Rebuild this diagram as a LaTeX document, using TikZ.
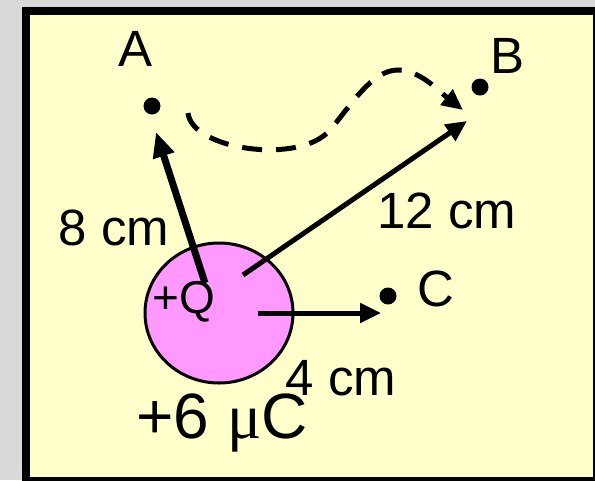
\documentclass[tikz,border=0pt]{standalone}
\usepackage{fontspec}
\setmainfont{Liberation Sans}
\newfontfamily\greekfont{Liberation Serif}
\usetikzlibrary{arrows.meta,shapes.geometric}
\definecolor{bggray}{HTML}{D9D9D9}
\definecolor{paper}{HTML}{FFFFCC}
\definecolor{charge}{HTML}{FF99FF}
\begin{document}
\begin{tikzpicture}[x=1pt,y=-1pt,
  lbl/.style={anchor=base,inner sep=0pt,font=\fontsize{51}{53}\selectfont},
  pt/.style={circle,fill=black,inner sep=0pt,minimum size=17pt},
  vec/.style={line width=5pt,-{Triangle[length=21pt,width=19pt]}},
  path/.style={line width=5pt,dash pattern=on 20pt off 14pt,-{Triangle[length=21pt,width=19pt]}}]
\useasboundingbox (0,0) rectangle (595,480);
\clip (0,0) rectangle (595,480);
\fill[bggray] (0,0) rectangle (595,480);
\draw[line width=8pt,fill=paper] (26,11) rectangle (597,481);
% points
\node[pt] (A) at (152,106) {};
\node[pt] (B) at (480,87) {};
\node[pt] (C) at (388,296) {};
\node[lbl] (lA) at (136,66) {A};
\node[lbl] (lB) at (508,73) {B};
\node[lbl] (lC) at (436,306) {C};
% charge
\node[draw=black,line width=3pt,fill=charge,ellipse,inner sep=0pt,
  minimum width=148pt,minimum height=140pt] (Q) at (219,313) {};
\node[lbl,font=\fontsize{46}{48}\selectfont] (lQ) at (184,313) {+Q};
% vectors
\coordinate (sA) at (205,283);
\coordinate (tA) at (156,132);
\coordinate (sB) at (243,275);
\coordinate (tB) at (467,121);
\coordinate (sC) at (258,313);
\coordinate (tC) at (381,313);
\draw[vec,line width=7pt,-{Triangle[length=25pt,width=21pt]}] (sA) -- (tA);
\draw[vec] (sB) -- (tB);
\draw[vec] (sC) -- (tC);
% dashed path A -> B
\coordinate (p0) at (188,113);
\coordinate (p1) at (330,130);
\coordinate (p2) at (398,70);
\coordinate (p3) at (463,110);
\draw[path] (p0) .. controls (192,150) and (300,165) .. (p1)
  .. controls (352,104) and (372,70) .. (p2)
  .. controls (420,70) and (440,92) .. (p3);
% distance labels
\node[lbl] (d8) at (114,245) {8 cm};
\node[lbl] (d12) at (447,228) {12 cm};
\node[lbl] (d4) at (341,395) {4 cm};
\node[lbl,font=\fontsize{64}{66}\selectfont] (q6) at (222,438) {+6 {\greekfont μ}C};
\end{tikzpicture}
\end{document}
